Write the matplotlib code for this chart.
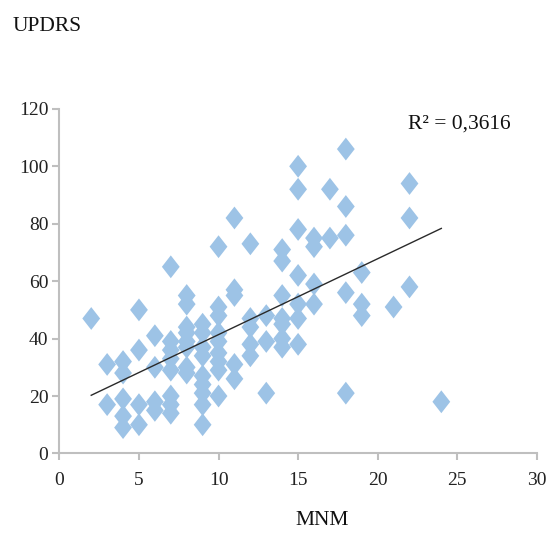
import numpy as np
import matplotlib
matplotlib.use("Agg")
import matplotlib.pyplot as plt

# MNM score -> list of UPDRS values
mnm_groups = [2, 3, 4, 5, 6, 7, 8, 9, 10, 11, 12, 13, 14, 15, 16, 17, 18, 19, 21, 22, 24]
updrs_groups = [
    [47],
    [31, 17],
    [32, 28, 19, 13, 9],
    [50, 36, 17, 10],
    [41, 30, 18, 15],
    [65, 39, 36, 33, 29, 20, 17, 14],
    [55, 52, 44, 42, 39, 37, 30, 28],
    [45, 42, 37, 34, 27, 24, 21, 17, 10],
    [72, 51, 48, 42, 39, 35, 32, 29, 20],
    [82, 57, 55, 31, 26],
    [73, 47, 44, 38, 34],
    [48, 39, 21],
    [71, 67, 55, 47, 45, 40, 37],
    [100, 92, 78, 62, 52, 47, 38],
    [75, 72, 59, 52],
    [92, 75],
    [106, 86, 76, 56, 21],
    [63, 52, 48],
    [51],
    [94, 82, 58],
    [18],
]
x_ticks = [0, 5, 10, 15, 20, 25, 30]
y_ticks = [0, 20, 40, 60, 80, 100, 120]
r2_label = "R² = 0,3616"
x_title = "MNM"
y_title = "UPDRS"

x = np.concatenate([[m] * len(v) for m, v in zip(mnm_groups, updrs_groups)]).astype(float)
y = np.concatenate(updrs_groups).astype(float)

plt.rcParams['font.family'] = ['Liberation Serif', 'DejaVu Serif']

fig = plt.figure(figsize=(5.5, 5.47), dpi=100)
ax = fig.add_axes([0.108, 0.171, 0.868, 0.630])

diamond = [(0, 1), (0.78, 0), (0, -1), (-0.78, 0), (0, 1)]
ax.scatter(x, y, marker=diamond, s=270, color='#9DC3E6', edgecolors='none', zorder=2)

coef = np.polyfit(x, y, 1)
xl = np.array([x.min(), x.max()])
ax.plot(xl, np.polyval(coef, xl), color='#2a2a2a', linewidth=1.0, zorder=3)

ax.set_xlim(0, 30)
ax.set_ylim(0, 120)
ax.set_xticks(x_ticks)
ax.set_yticks(y_ticks)
for s in ['top', 'right']:
    ax.spines[s].set_visible(False)
for s in ['left', 'bottom']:
    ax.spines[s].set_color('#BFBFBF')
    ax.spines[s].set_linewidth(1.5)
ax.tick_params(axis='both', direction='out', length=5, width=1.5, color='#BFBFBF',
               labelsize=14, labelcolor='#222222')
ax.tick_params(axis='x', pad=8)
ax.tick_params(axis='y', pad=3)

ax.text(0.945, 0.955, r2_label, transform=ax.transAxes, fontsize=15.5, ha='right', va='center', color='#111111')
fig.text(0.022, 0.952, y_title, fontsize=15.5, ha='left', va='center', color='#111111')
fig.text(0.585, 0.048, x_title, fontsize=15.5, ha='center', va='center', color='#111111')

fig.savefig("out.png", dpi=100)
